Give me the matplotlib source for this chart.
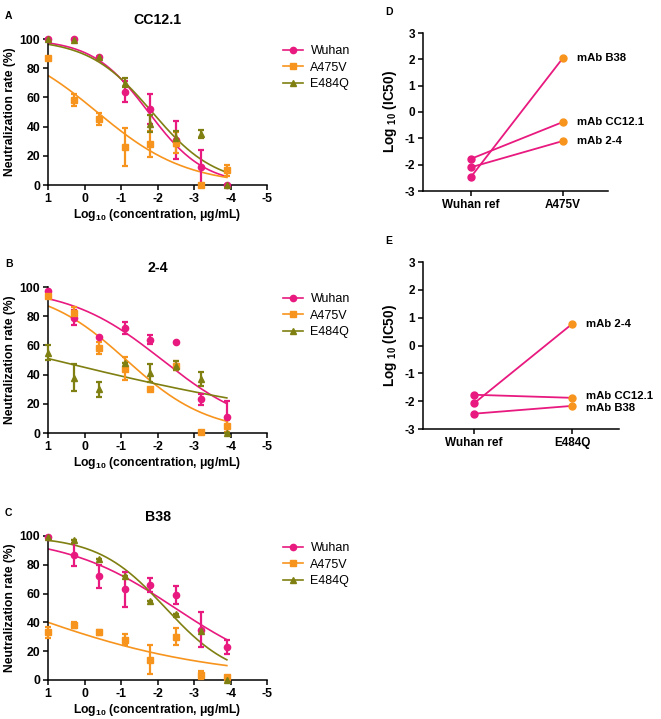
import numpy as np
import matplotlib
matplotlib.use('Agg')
import matplotlib.pyplot as plt

plt.rcParams['font.family'] = ['Liberation Sans', 'DejaVu Sans']
plt.rcParams['mathtext.fontset'] = 'custom'
plt.rcParams['mathtext.rm'] = 'Liberation Sans:bold'
plt.rcParams['mathtext.bf'] = 'Liberation Sans:bold'
plt.rcParams['axes.unicode_minus'] = False

PINK = '#E8197F'
ORANGE = '#F7941D'
OLIVE = '#7F7F12'

# log10 concentration (5-fold dilutions)
log_conc = [1.0, 0.3, -0.4, -1.1, -1.8, -2.5, -3.2, -3.9]
variants = ['Wuhan', 'A475V', 'E484Q']

# panel A: CC12.1  (mean, error)
cc12_wuhan = [100, 100, 88, 64, 52, 31, 12, 0]
cc12_wuhan_err = [0, 0, 0, 7, 10, 13, 12, 0]
cc12_a475v = [87, 58, 45, 26, 28, 29, 0, 10]
cc12_a475v_err = [0, 4, 4, 13, 9, 7, 0, 4]
cc12_e484q = [100, 99, 88, 70, 42, 32, 35, 0]
cc12_e484q_err = [0, 0, 0, 3, 6, 5, 3, 0]

# panel B: 2-4
m24_wuhan = [97, 79, 66, 72, 64, 62, 23, 11]
m24_wuhan_err = [0, 5, 0, 4, 3, 0, 4, 11]
m24_a475v = [94, 82, 58, 44, 30, 46, 1, 5]
m24_a475v_err = [0, 4, 4, 8, 0, 3, 0, 4]
m24_e484q = [55, 38, 30, 48, 41, 46, 37, 0]
m24_e484q_err = [5, 9, 5, 0, 6, 3, 5, 0]

# panel C: B38
b38_wuhan = [99, 87, 72, 63, 66, 59, 35, 23]
b38_wuhan_err = [0, 8, 8, 12, 5, 6, 12, 5]
b38_a475v = [33, 38, 33, 28, 14, 30, 3.5, 2]
b38_a475v_err = [4, 2, 2, 4, 10, 6, 3, 0]
b38_e484q = [99, 97, 84, 72, 55, 46, 34, 0]
b38_e484q_err = [0, 0, 0, 0, 0, 0, 0, 0]

# fitted curve parameters: (logEC50, hill slope)
cc12_fit = [(-1.75, 0.566), (-0.344, 0.355), (-1.85, 0.50)]
m24_fit = [(-2.13, 0.339), (-1.146, 0.385), (0.835, 0.1056)]
b38_fit = [(-2.48, 0.289), (2.10, 0.159), (-2.22, 0.469)]

# log10(IC50) paired values
mabs = ['mAb CC12.1', 'mAb 2-4', 'mAb B38']
ic50_wuhan_d = [-1.78, -2.10, -2.47]
ic50_a475v = [-0.38, -1.10, 2.05]
ic50_wuhan_e = [-1.77, -2.08, -2.45]
ic50_e484q = [-1.88, 0.77, -2.17]

W, H = 661, 719
fig = plt.figure(figsize=(W / 100, H / 100), dpi=100)


def px_axes(x0, y0, x1, y1):
    return fig.add_axes([x0 / W, 1 - y1 / H, (x1 - x0) / W, (y1 - y0) / H])


def style(ax, size=8.8):
    for s in ['top', 'right']:
        ax.spines[s].set_visible(False)
    for s in ['left', 'bottom']:
        ax.spines[s].set_linewidth(1.1)
    ax.tick_params(width=1.1, length=3.5, labelsize=size, pad=2)
    for lab in ax.get_xticklabels() + ax.get_yticklabels():
        lab.set_fontweight('bold')


def curve_panel(box, title, letter, series, errs, fits):
    ax = px_axes(*box)
    colors = [PINK, ORANGE, OLIVE]
    markers = ['o', 's', '^']
    xs = np.linspace(1, -3.9, 200)
    for name, y, e, (c50, h), col, mk in zip(variants, series, errs, fits, colors, markers):
        fit = 100.0 / (1 + 10 ** ((c50 - xs) * h))
        ax.plot(xs, fit, color=col, lw=1.2, zorder=2)
        ax.errorbar(log_conc, y, yerr=e, fmt='none', ecolor=col, elinewidth=1.6,
                    capsize=2.5, capthick=1.6, clip_on=False, zorder=3)
        ax.plot(log_conc, y, mk, color=col, ms=4.5, clip_on=False, zorder=4)
        ax.plot([], [], marker=mk, color=col, ms=4.5, lw=1.2, label=name)
    ax.set_xlim(1, -5)
    ax.set_ylim(0, 100)
    ax.set_xticks([1, 0, -1, -2, -3, -4, -5])
    ax.set_yticks([0, 20, 40, 60, 80, 100])
    style(ax)
    ax.set_title(title, fontsize=10.2, fontweight='bold', pad=11)
    ax.set_ylabel('Neutralization rate (%)', fontsize=8.7, fontweight='bold', labelpad=3)
    ax.set_xlabel(r'Log$_{10}$ (concentration, μg/mL)', fontsize=8.7,
                  fontweight='bold', labelpad=1.5)
    ax.legend(loc='upper left', bbox_to_anchor=(1.05, 0.99), frameon=False,
              fontsize=9, handlelength=1.6, handletextpad=0.6, labelspacing=0.35,
              borderaxespad=0)
    fig.text(5 / W, 1 - (box[1] - 28) / H, letter, fontsize=7.5, fontweight='bold',
             va='top')
    return ax


curve_panel((48, 39, 267, 185), 'CC12.1', 'A',
            [cc12_wuhan, cc12_a475v, cc12_e484q],
            [cc12_wuhan_err, cc12_a475v_err, cc12_e484q_err], cc12_fit)
curve_panel((48, 287, 267, 433), '2-4', 'B',
            [m24_wuhan, m24_a475v, m24_e484q],
            [m24_wuhan_err, m24_a475v_err, m24_e484q_err], m24_fit)
curve_panel((48, 536, 267, 680), 'B38', 'C',
            [b38_wuhan, b38_a475v, b38_e484q],
            [b38_wuhan_err, b38_a475v_err, b38_e484q_err], b38_fit)


def pair_panel(box, letter, mutant, ref_vals, mut_vals, xlim, nudge):
    ax = px_axes(*box)
    for m, a, b, dy in zip(mabs, ref_vals, mut_vals, nudge):
        ax.plot([0, 1], [a, b], color=PINK, lw=1.3, zorder=2)
        ax.plot([0], [a], 'o', color=PINK, ms=5, zorder=3)
        ax.plot([1], [b], 'o', color=ORANGE, ms=5, zorder=3)
        ax.annotate(m, (1, b), xytext=(10, dy), textcoords='offset points',
                    fontsize=8.2, fontweight='bold', va='center')
    ax.set_xlim(*xlim)
    ax.set_ylim(-3, 3)
    ax.set_xticks([0, 1])
    ax.set_xticklabels(['Wuhan ref', mutant])
    ax.set_yticks(range(-3, 4))
    style(ax, 8.5)
    ax.set_ylabel(r'Log $_{10}$ (IC50)', fontsize=9.8, fontweight='bold', labelpad=4)
    fig.text(385 / W, 1 - (box[1] - 26) / H, letter, fontsize=7.5, fontweight='bold',
             va='top')
    return ax


pair_panel((423, 33, 608, 191), 'D', 'A475V', ic50_wuhan_d, ic50_a475v,
           (-0.52, 1.49), (0, 0, 0))
pair_panel((423, 262, 619, 429), 'E', 'E484Q', ic50_wuhan_e, ic50_e484q,
           (-0.52, 1.48), (1.5, 0, -1.5))

fig.savefig('out.png', dpi=100)
